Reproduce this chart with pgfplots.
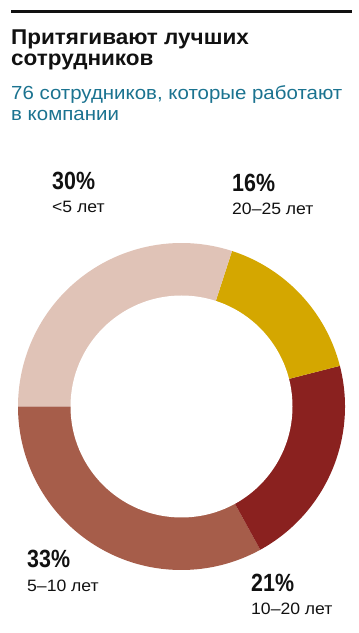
\documentclass[border=0pt]{standalone}
\usepackage{fontspec}
\setmainfont{Liberation Sans}
\newfontfamily\condfont[FakeStretch=0.86]{Liberation Sans Bold}
\newfontfamily\titlefont[FakeStretch=1.05]{Liberation Sans Bold}
\newfontfamily\subfont[FakeStretch=1.08]{Liberation Sans}
\newfontfamily\labfont[FakeStretch=1.07]{Liberation Sans}
\usepackage{pgfplots}
\pgfplotsset{compat=1.18}
\definecolor{cPink}{HTML}{E0C3B7}
\definecolor{cGold}{HTML}{D4A700}
\definecolor{cRed}{HTML}{8A211F}
\definecolor{cBrown}{HTML}{A65D4A}
\definecolor{cBlue}{HTML}{1B7390}
\definecolor{cTitle}{HTML}{111111}
% shares, %, counter-clockwise from 180 deg
\def\pA{33}% 5-10
\def\pB{21}% 10-20
\def\pC{16}% 20-25
\def\pD{30}% <5
\def\cx{181.5}\def\cy{226.5}
\begin{document}
\begin{tikzpicture}
\begin{axis}[
  width=358bp, height=633bp, scale only axis,
  xmin=0, xmax=358, ymin=0, ymax=633,
  hide axis, clip=false,
]
\path (axis cs:0,0) rectangle (axis cs:358,633);
% top rule
\fill[cTitle] (axis cs:11,620) rectangle (axis cs:352,623);
% title
\node[anchor=base west, inner sep=0pt, font=\fontsize{21.5}{22}\titlefont, text=cTitle] at (axis cs:11,588) {Притягивают лучших};
\node[anchor=base west, inner sep=0pt, font=\fontsize{21.5}{22}\titlefont, text=cTitle] at (axis cs:11,567) {сотрудников};
% subtitle
\node[anchor=base west, inner sep=0pt, font=\fontsize{19}{20}\subfont, text=cBlue] at (axis cs:11,533.5) {76 сотрудников, которые работают};
\node[anchor=base west, inner sep=0pt, font=\fontsize{19}{20}\subfont, text=cBlue] at (axis cs:11,512) {в компании};
% donut
\fill[cBrown] (axis cs:\cx,\cy) -- ++(180:163.5bp) arc[start angle=180, end angle={180+3.6*\pA}, radius=163.5bp] -- cycle;
\fill[cRed] (axis cs:\cx,\cy) -- ++({180+3.6*\pA}:163.5bp) arc[start angle={180+3.6*\pA}, end angle={180+3.6*(\pA+\pB)}, radius=163.5bp] -- cycle;
\fill[cGold] (axis cs:\cx,\cy) -- ++({180+3.6*(\pA+\pB)}:163.5bp) arc[start angle={180+3.6*(\pA+\pB)}, end angle={180+3.6*(\pA+\pB+\pC)}, radius=163.5bp] -- cycle;
\fill[cPink] (axis cs:\cx,\cy) -- ++({180+3.6*(\pA+\pB+\pC)}:163.5bp) arc[start angle={180+3.6*(\pA+\pB+\pC)}, end angle={180+3.6*(\pA+\pB+\pC+\pD)}, radius=163.5bp] -- cycle;
\fill[white] (axis cs:\cx,\cy) circle[radius=111bp];
% labels
\node[anchor=base west, inner sep=0pt, font=\fontsize{25}{25}\condfont, text=cTitle] at (axis cs:52,443) {\pD\%};
\node[anchor=base west, inner sep=0pt, font=\fontsize{16.5}{17}\labfont, text=cTitle] at (axis cs:52,420) {<5 лет};
\node[anchor=base west, inner sep=0pt, font=\fontsize{25}{25}\condfont, text=cTitle] at (axis cs:232,441) {\pC\%};
\node[anchor=base west, inner sep=0pt, font=\fontsize{16.5}{17}\labfont, text=cTitle] at (axis cs:232,418) {20–25 лет};
\node[anchor=base west, inner sep=0pt, font=\fontsize{25}{25}\condfont, text=cTitle] at (axis cs:27,65) {\pA\%};
\node[anchor=base west, inner sep=0pt, font=\fontsize{16.5}{17}\labfont, text=cTitle] at (axis cs:27,41) {5–10 лет};
\node[anchor=base west, inner sep=0pt, font=\fontsize{25}{25}\condfont, text=cTitle] at (axis cs:251,41) {\pB\%};
\node[anchor=base west, inner sep=0pt, font=\fontsize{16.5}{17}\labfont, text=cTitle] at (axis cs:251,19) {10–20 лет};
\end{axis}
\end{tikzpicture}
\end{document}
